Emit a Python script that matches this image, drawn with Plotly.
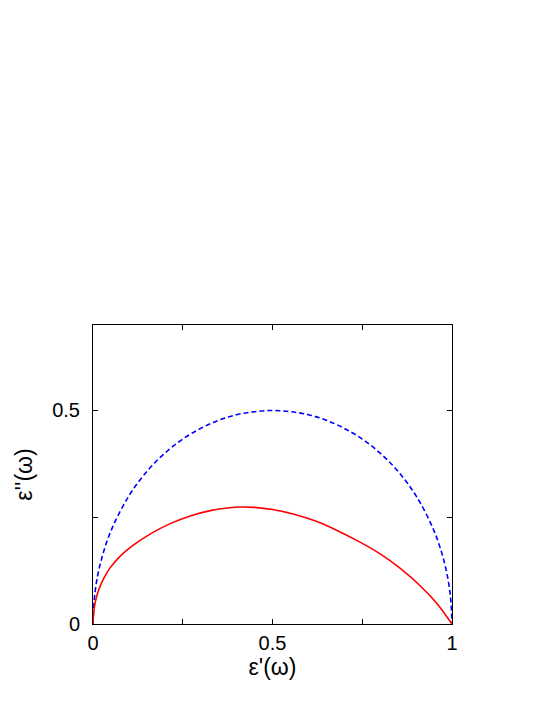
import plotly.graph_objects as go

# Debye semicircle (blue, dashed)
debye_real = [0, 0.005, 0.02, 0.05, 0.1, 0.15, 0.2, 0.25, 0.3, 0.35, 0.4, 0.45, 0.5,
              0.55, 0.6, 0.65, 0.7, 0.75, 0.8, 0.85, 0.9, 0.95, 0.98, 0.995, 1]
debye_imag = [0, 0.070, 0.140, 0.218, 0.300, 0.357, 0.400, 0.433, 0.458, 0.477, 0.490, 0.497, 0.500,
              0.497, 0.490, 0.477, 0.458, 0.433, 0.400, 0.357, 0.300, 0.218, 0.140, 0.070, 0]

# asymmetric relaxation (red, solid)
model_real = [0, 0.002, 0.006, 0.016, 0.030, 0.048, 0.076, 0.113, 0.160, 0.215, 0.271,
              0.330, 0.380, 0.410, 0.450, 0.500, 0.560, 0.620, 0.680, 0.745, 0.800,
              0.856, 0.912, 0.958, 1]
model_imag = [0, 0.026, 0.050, 0.080, 0.107, 0.132, 0.159, 0.185, 0.211, 0.235, 0.253,
              0.266, 0.272, 0.274, 0.273, 0.268, 0.257, 0.241, 0.219, 0.191, 0.164,
              0.130, 0.089, 0.048, 0]

x_ticks = [0, 0.25, 0.5, 0.75, 1]
x_labels = ["0", "", "0.5", "", "1"]
y_ticks = [0, 0.25, 0.5]
y_labels = ["0", "", "0.5"]

FONT = "Liberation Sans, Arial, sans-serif"

fig = go.Figure()

fig.add_trace(
    go.Scatter(
        x=debye_real,
        y=debye_imag,
        mode="lines",
        line=dict(color="#0000ff", width=1.6, dash="5px,3px", shape="spline", smoothing=1),
        showlegend=False
    )
)

fig.add_trace(
    go.Scatter(
        x=model_real,
        y=model_imag,
        mode="lines",
        line=dict(color="#ff0000", width=1.6, shape="spline", smoothing=0.8),
        showlegend=False
    )
)

axis_common = dict(
    showgrid=False,
    zeroline=False,
    showline=True,
    linecolor="black",
    linewidth=1,
    mirror="ticks",
    ticks="inside",
    ticklen=5,
    tickcolor="black",
    tickfont=dict(family=FONT, size=20, color="black"),
)

# page body adds an 8px offset, margins compensate for it
fig.update_layout(
    width=545,
    height=705,
    paper_bgcolor="white",
    plot_bgcolor="white",
    margin=dict(l=85, r=101, t=317, b=89),
    xaxis=dict(
        range=[0, 1],
        tickvals=x_ticks,
        ticktext=x_labels,
        ticklabelstandoff=1,
        title=dict(text="ε'(ω)", font=dict(family=FONT, size=23, color="black"), standoff=2),
        **axis_common
    ),
    yaxis=dict(
        range=[0, 0.7],
        tickvals=y_ticks,
        ticktext=y_labels,
        ticklabelstandoff=8,
        title=dict(text="ε''(ω)", font=dict(family=FONT, size=23, color="black"), standoff=13),
        **axis_common
    ),
)

fig.write_html("out.html")
